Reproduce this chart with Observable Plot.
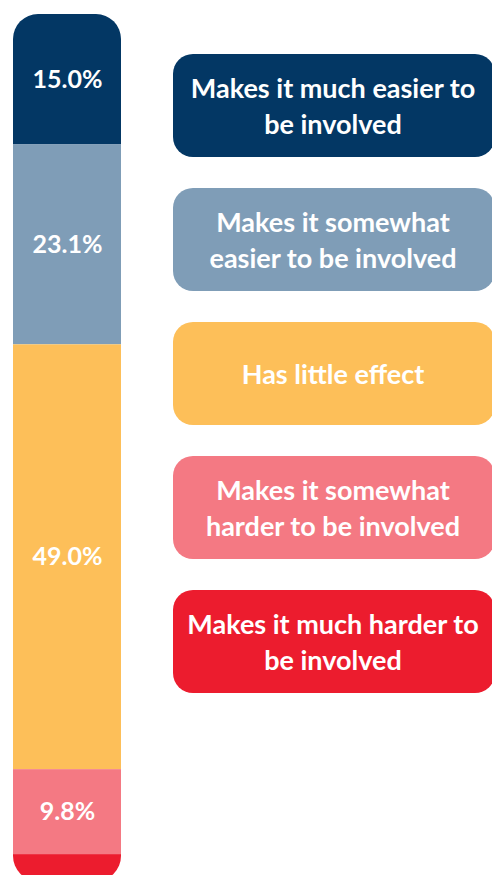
<!DOCTYPE html>
<html>
<head>
<meta charset="utf-8">
<script src="https://cdn.jsdelivr.net/npm/d3@7"></script>
<script src="https://cdn.jsdelivr.net/npm/@observablehq/plot@0.6"></script>
<style>
  html, body { margin: 0; padding: 0; background: #fff; }
  #wrap { position: relative; width: 492px; height: 875px; overflow: hidden; font-family: Lato, "Open Sans", sans-serif; }
  #chart { position: absolute; left: 0; top: 0; }
  #legend { position: absolute; left: 173px; top: 54px; display: flex; flex-direction: column; gap: 31px; }
  .item { width: 322px; height: 103px; border-radius: 20px; color: #fff; font-weight: 700; font-size: 27px; line-height: 36px;
          display: flex; align-items: center; justify-content: center; text-align: center; white-space: pre-line; box-sizing: border-box; padding-right: 2px; }
</style>
</head>
<body>
<div id="wrap">
  <div id="chart"></div>
  <div id="legend"></div>
</div>
<script>
const categories = [
  "Makes it much easier to\nbe involved",
  "Makes it somewhat\neasier to be involved",
  "Has little effect",
  "Makes it somewhat\nharder to be involved",
  "Makes it much harder to\nbe involved"
];
const values = [15.0, 23.1, 49.0, 9.8, 3.1];
const valueLabels = ["15.0%", "23.1%", "49.0%", "9.8%", ""];
const colors = ["#033764", "#7f9db7", "#fdbf59", "#f47983", "#ec1c2e"];

const data = categories.map((c, i) => ({group: "All", category: c, value: values[i], label: valueLabels[i]}));

const plot = Plot.plot({
  width: 140,
  height: 875,
  marginLeft: 13,
  marginRight: 19,
  marginTop: 0,
  marginBottom: 0,
  x: {domain: ["All"], padding: 0, axis: null},
  y: {domain: [0, 100], range: [14, 881], axis: null},
  color: {domain: categories, range: colors},
  marks: [
    Plot.barY(data, {x: "group", y: "value", fill: "category", order: null, inset: 0}),
    Plot.text(data, Plot.stackY({x: "group", y: "value", text: "label", order: null,
      fill: "white", fontSize: 25, fontWeight: "bold", fontFamily: "Lato, 'Open Sans', sans-serif"}))
  ]
});

// round the bar's outer corners by clipping it with a rounded rect derived from the scales
const xs = plot.scale("x"), ys = plot.scale("y");
const svg = d3.select(plot);
const x0 = xs.apply("All"), bw = xs.bandwidth;
const y0 = ys.apply(0), y1 = ys.apply(100);
svg.insert("defs", ":first-child").append("clipPath").attr("id", "barclip")
  .append("rect").attr("x", x0).attr("y", y0).attr("width", bw).attr("height", y1 - y0).attr("rx", 25).attr("ry", 25);
svg.select('g[aria-label="bar"]').attr("clip-path", "url(#barclip)");

document.getElementById("chart").appendChild(plot);

const legend = d3.select("#legend");
categories.forEach((c, i) => {
  legend.append("div").attr("class", "item").style("background", colors[i]).text(c);
});
</script>
</body>
</html>
